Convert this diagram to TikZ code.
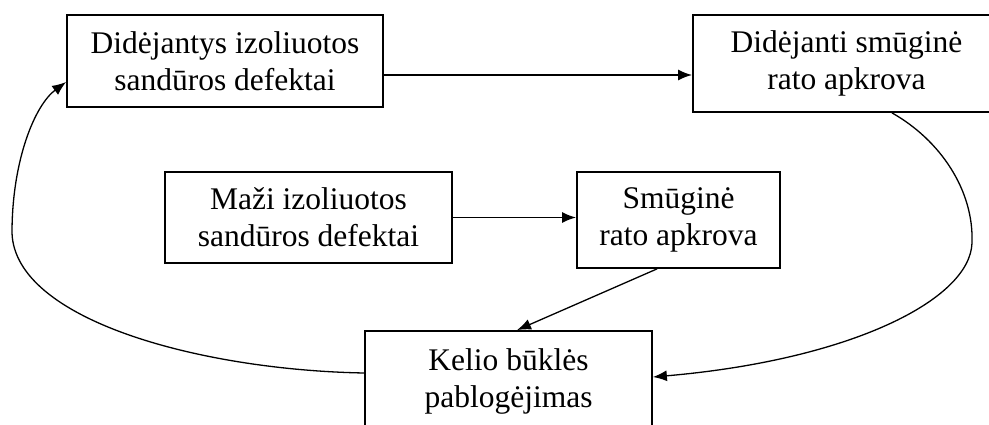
\documentclass[tikz,border=0pt]{standalone}
\usepackage{fontspec}
\setmainfont{Liberation Serif}
\usetikzlibrary{arrows.meta}
\begin{document}
\begin{tikzpicture}[x=1pt,y=-1pt,
  box/.style={draw, line width=1.8pt, align=center, inner sep=0pt,
    font=\fontsize{31.5}{37}\selectfont},
  arr/.style={line width=1.6pt, -{Latex[length=14pt,width=11pt]}},
  carr/.style={line width=1.3pt, -{Latex[length=14pt,width=11pt]}}]
\useasboundingbox (0,0) rectangle (989,425);
\fill[white] (0,0) rectangle (989,425);
\node[box, minimum width=316pt, minimum height=92pt] (A) at (225,61) {Didėjantys izoliuotos\\sandūros defektai};
\node[box, minimum width=307pt, minimum height=97pt] (B) at (846.5,63.5) {Didėjanti smūginė\\rato apkrova};
\node[box, minimum width=287pt, minimum height=91pt] (C) at (308.5,217.5) {Maži izoliuotos\\sandūros defektai};
\node[box, minimum width=203pt, minimum height=96pt] (D) at (678.5,220) {Smūginė\\rato apkrova};
\node[box, minimum width=287pt, minimum height=100pt] (E) at (508.5,381) {Kelio būklės\\pablogėjimas};
\coordinate (a1) at ([yshift=-14pt]A.east);
\draw[arr] (a1) -- (B.west |- a1);
\draw[arr] (C.east) -- (D.west |- C.east);
\draw[carr] ([xshift=-21.5pt]D.south) -- ([xshift=8.5pt]E.north);
\draw[carr] ([xshift=45.5pt]B.south) .. controls (940,140) and (974,190) .. (972,243)
   .. controls (970,300) and (850,360) .. ([yshift=4pt]E.east);
\draw[carr] ([yshift=8pt]E.west) .. controls (200,370) and (15,320) .. (12,233)
   .. controls (12,160) and (35,105) .. ([yshift=-21pt]A.west);
\end{tikzpicture}
\end{document}
